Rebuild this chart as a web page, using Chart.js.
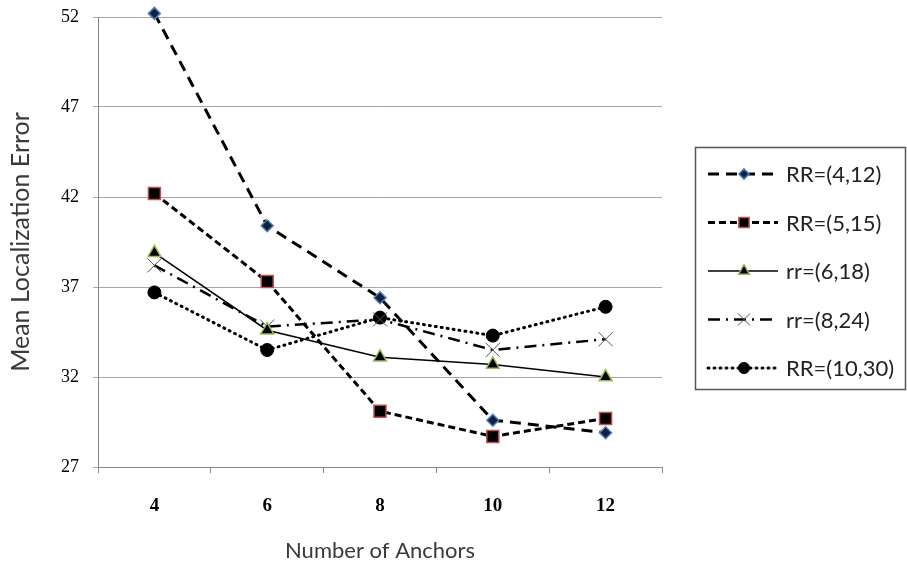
<!DOCTYPE html>
<html>
<head>
<meta charset="utf-8">
<script src="https://cdn.jsdelivr.net/npm/chart.js@4/dist/chart.umd.min.js"></script>
<style>
  html, body { margin: 0; padding: 0; background: #fff; }
  #wrap { width: 907px; height: 567px; position: relative; }
</style>
</head>
<body>
<div id="wrap"><canvas id="chart"></canvas></div>
<script>
// Anchor counts on the x axis and mean error per ranging setting.
const anchors = ["4", "6", "8", "10", "12"];
const seriesNames = ["RR=(4,12)", "RR=(5,15)", "rr=(6,18)", "rr=(8,24)", "RR=(10,30)"];
const rr4_12  = [52.2, 40.4, 36.4, 29.6, 28.9];
const rr5_15  = [42.2, 37.3, 30.1, 28.7, 29.7];
const rr6_18  = [38.9, 34.6, 33.1, 32.7, 32.0];
const rr8_24  = [38.2, 34.8, 35.2, 33.5, 34.1];
const rr10_30 = [36.7, 33.5, 35.3, 34.3, 35.9];
const yTicks = [27, 32, 37, 42, 47, 52];

const styles = [
    { dash: [11, 7], width: 3, point: "rectRot", r: 6, fill: "#14213d", edge: "#4f81bd", pw: 1.5 },
    { dash: [7, 4], width: 3, point: "rect", r: 8.5, fill: "#000", edge: "#c0504d", pw: 1.5 },
    { dash: [], width: 1.5, point: "triangle", r: 7.5, fill: "#000", edge: "#9bbb59", pw: 1.5 },
    { dash: [12, 6, 2, 6], width: 2.5, point: "crossRot", r: 10, fill: "#555", edge: "#555", pw: 1 },
    { dash: [1, 5], width: 3, point: "circle", r: 6.5, fill: "#000", edge: "#000", pw: 1 },
];
const values = [rr4_12, rr5_15, rr6_18, rr8_24, rr10_30];

const datasets = values.map((v, i) => {
    const s = styles[i];
    return {
        label: seriesNames[i],
        data: v,
        borderColor: "#000",
        borderWidth: s.width,
        borderDash: s.dash,
        borderCapStyle: i === 4 ? "round" : "butt",
        pointStyle: s.point,
        pointRadius: s.r,
        pointBackgroundColor: s.fill,
        pointBorderColor: s.edge,
        pointBorderWidth: s.pw,
        tension: 0,
        clip: false,
    };
});

// Boxed legend on the right, with a line sample and marker per series.
const boxLegend = {
    id: "boxLegend",
    afterDraw(chart) {
        const ctx = chart.ctx;
        ctx.save();
        ctx.strokeStyle = "#555";
        ctx.lineWidth = 1.5;
        ctx.strokeRect(695.5, 147.5, 210, 242);
        chart.data.datasets.forEach((ds, i) => {
            const y = 174 + i * 48.5;
            ctx.save();
            ctx.strokeStyle = ds.borderColor;
            ctx.lineWidth = ds.borderWidth;
            ctx.lineCap = ds.borderCapStyle;
            ctx.setLineDash(ds.borderDash);
            ctx.beginPath();
            ctx.moveTo(708, y);
            ctx.lineTo(778, y);
            ctx.stroke();
            ctx.restore();
            ctx.save();
            ctx.fillStyle = ds.pointBackgroundColor;
            ctx.strokeStyle = ds.pointBorderColor;
            ctx.lineWidth = ds.pointBorderWidth;
            Chart.helpers.drawPoint(ctx, {
                pointStyle: ds.pointStyle,
                radius: ds.pointRadius * 0.85,
                rotation: 0,
                borderWidth: ds.pointBorderWidth,
            }, 744, y);
            ctx.restore();
            ctx.fillStyle = "#222";
            ctx.font = "22px Lato";
            ctx.textBaseline = "middle";
            ctx.fillText(ds.label, 786, y + 1);
        });
        ctx.restore();
    },
};

new Chart(document.getElementById("chart"), {
    type: "line",
    data: { labels: anchors, datasets: datasets },
    plugins: [boxLegend],
    options: {
        responsive: true,
        maintainAspectRatio: false,
        animation: false,
        layout: { autoPadding: false, padding: { left: 0, right: 245, top: 17, bottom: 0 } },
        plugins: { legend: { display: false }, tooltip: { enabled: false } },
        scales: {
            x: {
                offset: true,
                grid: { offset: true, drawOnChartArea: false, tickLength: 6, color: "#888" },
                border: { color: "#888", width: 1 },
                ticks: { color: "#000", padding: 22, font: { family: "Liberation Serif", size: 19, weight: "bold" } },
                title: {
                    display: true, text: "Number of Anchors", color: "#3a3a3a",
                    font: { family: "Lato", size: 22 }, padding: { top: 0, bottom: 3 },
                },
                afterFit(scale) {
                    scale.height = 100;
                    scale.paddingLeft = 0;
                    scale.paddingRight = 0;
                },
            },
            y: {
                min: 27, max: 52,
                afterBuildTicks(scale) { scale.ticks = yTicks.map(v => ({ value: v })); },
                grid: { color: "#a6a6a6", tickLength: 5 },
                border: { color: "#888", width: 1 },
                ticks: { color: "#000", padding: 14, font: { family: "Liberation Serif", size: 18 } },
                title: {
                    display: true, text: "Mean Localization Error", color: "#3a3a3a",
                    font: { family: "Lato", size: 25 }, padding: { top: 6, bottom: 0 },
                },
                afterFit(scale) {
                    scale.width = 98;
                    scale.paddingTop = 0;
                    scale.paddingBottom = 0;
                },
            },
        },
    },
});
</script>
</body>
</html>
